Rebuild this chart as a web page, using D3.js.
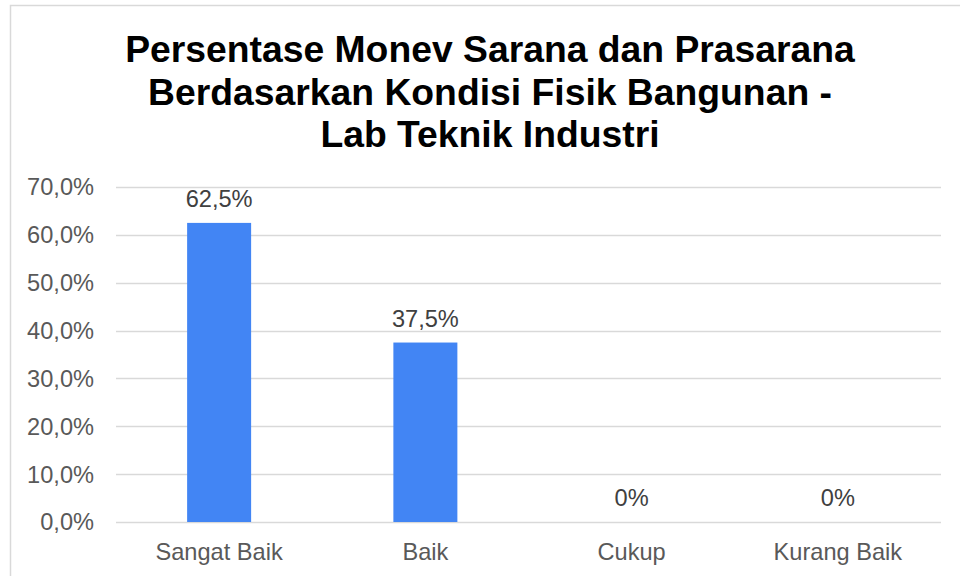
<!DOCTYPE html>
<html><head><meta charset="utf-8">
<script src="https://cdn.jsdelivr.net/npm/d3@7"></script>
<style>body{margin:0;background:#fff}svg{display:block}</style>
</head><body>
<svg id="c" width="960" height="576"></svg>
<script>
const titleLines = ["Persentase Monev Sarana dan Prasarana", "Berdasarkan Kondisi Fisik Bangunan -", "Lab Teknik Industri"];
const categories = ["Sangat Baik", "Baik", "Cukup", "Kurang Baik"];
const values = [62.5, 37.5, 0, 0];
const valueLabels = ["62,5%", "37,5%", "0%", "0%"];
const yTicks = [0, 10, 20, 30, 40, 50, 60, 70];

(function () {
const svg = d3.select("#c");
const font = "'Liberation Sans', Arial, Helvetica, sans-serif";
const fs = 23.6;

svg.append("rect").attr("x", 10.5).attr("y", 5.5).attr("width", 960).attr("height", 600)
  .attr("fill", "#fff").attr("stroke", "#d9d9d9").attr("stroke-width", 1.5);

const pLeft = 116, pRight = 941, pTop = 187, pBottom = 522;
const x = d3.scaleBand().domain(categories).range([pLeft, pRight]).paddingInner(0).paddingOuter(0);
const y = d3.scaleLinear().domain([0, 70]).range([pBottom, pTop]);

// title
svg.append("g").selectAll("text").data(titleLines).join("text")
  .attr("x", 490).attr("y", (d, i) => 62 + i * 42.5)
  .attr("text-anchor", "middle").attr("font-family", font).attr("font-weight", "bold")
  .attr("font-size", 37.3).attr("fill", "#000").text(d => d);

// gridlines
svg.append("g").selectAll("line").data(yTicks).join("line")
  .attr("x1", pLeft).attr("x2", pRight)
  .attr("y1", d => Math.round(y(d)) + 0.5).attr("y2", d => Math.round(y(d)) + 0.5)
  .attr("stroke", "#d9d9d9").attr("stroke-width", 1.5);

// y axis labels
const fmt = d => d.toFixed(1).replace(".", ",") + "%";
svg.append("g").selectAll("text").data(yTicks).join("text")
  .attr("x", 94).attr("y", d => y(d)).attr("dy", "0.36em")
  .attr("text-anchor", "end").attr("font-family", font).attr("font-size", fs)
  .attr("fill", "#595959").text(fmt);

// bars
const bw = 64;
svg.append("g").selectAll("rect").data(values).join("rect")
  .attr("x", (d, i) => x(categories[i]) + x.bandwidth() / 2 - bw / 2)
  .attr("width", bw)
  .attr("y", d => y(d)).attr("height", d => y(0) - y(d))
  .attr("fill", "#4285f4");

// value labels
svg.append("g").selectAll("text").data(values).join("text")
  .attr("x", (d, i) => x(categories[i]) + x.bandwidth() / 2)
  .attr("y", d => y(d) - 16)
  .attr("text-anchor", "middle").attr("font-family", font).attr("font-size", fs)
  .attr("fill", "#404040").text((d, i) => valueLabels[i]);

// category labels
svg.append("g").selectAll("text").data(categories).join("text")
  .attr("x", d => x(d) + x.bandwidth() / 2).attr("y", 560)
  .attr("text-anchor", "middle").attr("font-family", font).attr("font-size", fs)
  .attr("fill", "#595959").text(d => d);
})();
</script>
</body></html>
